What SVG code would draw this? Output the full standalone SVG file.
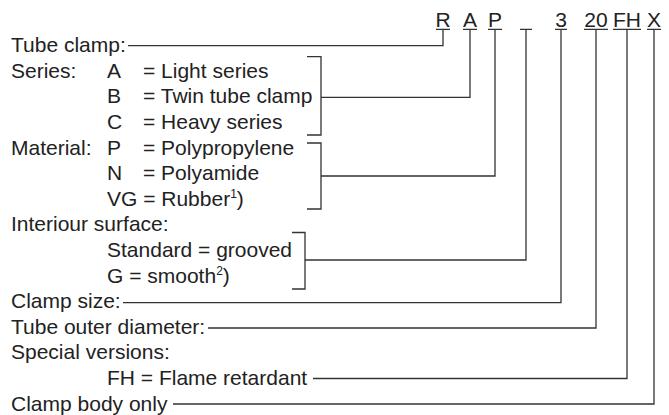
<svg xmlns="http://www.w3.org/2000/svg" width="669" height="415" viewBox="0 0 669 415">
<style>
text{font-family:"Liberation Sans",Arial,Helvetica,sans-serif;font-size:21px;fill:#222}
.c{text-anchor:middle}
.ln{fill:none;stroke:#333;stroke-width:1.3}
.sup{font-size:12px}
</style>
<rect width="669" height="415" fill="#fff"/>
<g id="code">
<text class="c" x="443" y="27">R</text>
<text class="c" x="470" y="27">A</text>
<text class="c" x="495" y="27">P</text>
<text class="c" x="561" y="27">3</text>
<text class="c" x="596" y="27">20</text>
<text class="c" x="627" y="27">FH</text>
<text class="c" x="654" y="27">X</text>
<path class="ln" d="M436,29.3H450M463,29.3H477M488,29.3H502M520,29.3H532M555,29.3H567M584,29.3H608M613,29.3H641M647,29.3H661"/>
</g>
<g id="tube-clamp"><text x="11" y="52">Tube clamp:</text></g>
<g id="series">
<text x="11" y="77.8">Series:</text>
<text x="107" y="77.8">A</text><text x="143" y="77.8">= Light series</text>
<text x="107" y="103.4">B</text><text x="143" y="103.4">= Twin tube clamp</text>
<text x="107" y="129">C</text><text x="143" y="129">= Heavy series</text>
</g>
<g id="material">
<text x="11" y="154.6">Material:</text>
<text x="107" y="154.6">P</text><text x="143" y="154.6">= Polypropylene</text>
<text x="107" y="180.2">N</text><text x="143" y="180.2">= Polyamide</text>
<text x="107" y="205.8">VG = Rubber<tspan class="sup" dy="-8">1</tspan><tspan dy="8">)</tspan></text>
</g>
<g id="interiour">
<text x="11" y="231.4">Interiour surface:</text>
<text x="107" y="257">Standard = grooved</text>
<text x="107" y="282.6">G = smooth<tspan class="sup" dy="-8">2</tspan><tspan dy="8">)</tspan></text>
</g>
<g id="clamp-size"><text x="11" y="308.2">Clamp size:</text></g>
<g id="tube-od"><text x="11" y="333.8">Tube outer diameter:</text></g>
<g id="special">
<text x="11" y="359.4">Special versions:</text>
<text x="107" y="385">FH = Flame retardant</text>
</g>
<g id="body-only"><text x="11" y="410.6">Clamp body only</text></g>
<g id="connectors">
<path class="ln" d="M128,45.7H443V29"/>
<path class="ln" d="M307,56.7H321V135H307"/>
<path class="ln" d="M321,97.3H470V29"/>
<path class="ln" d="M307,143H321V209H307"/>
<path class="ln" d="M321,176H495V29"/>
<path class="ln" d="M292,232.5H305V289H292"/>
<path class="ln" d="M305,260H526V29"/>
<path class="ln" d="M123,302.7H561V29"/>
<path class="ln" d="M208,328H596V29"/>
<path class="ln" d="M313,378.5H627V29"/>
<path class="ln" d="M173,404H654V29"/>
</g>
</svg>
